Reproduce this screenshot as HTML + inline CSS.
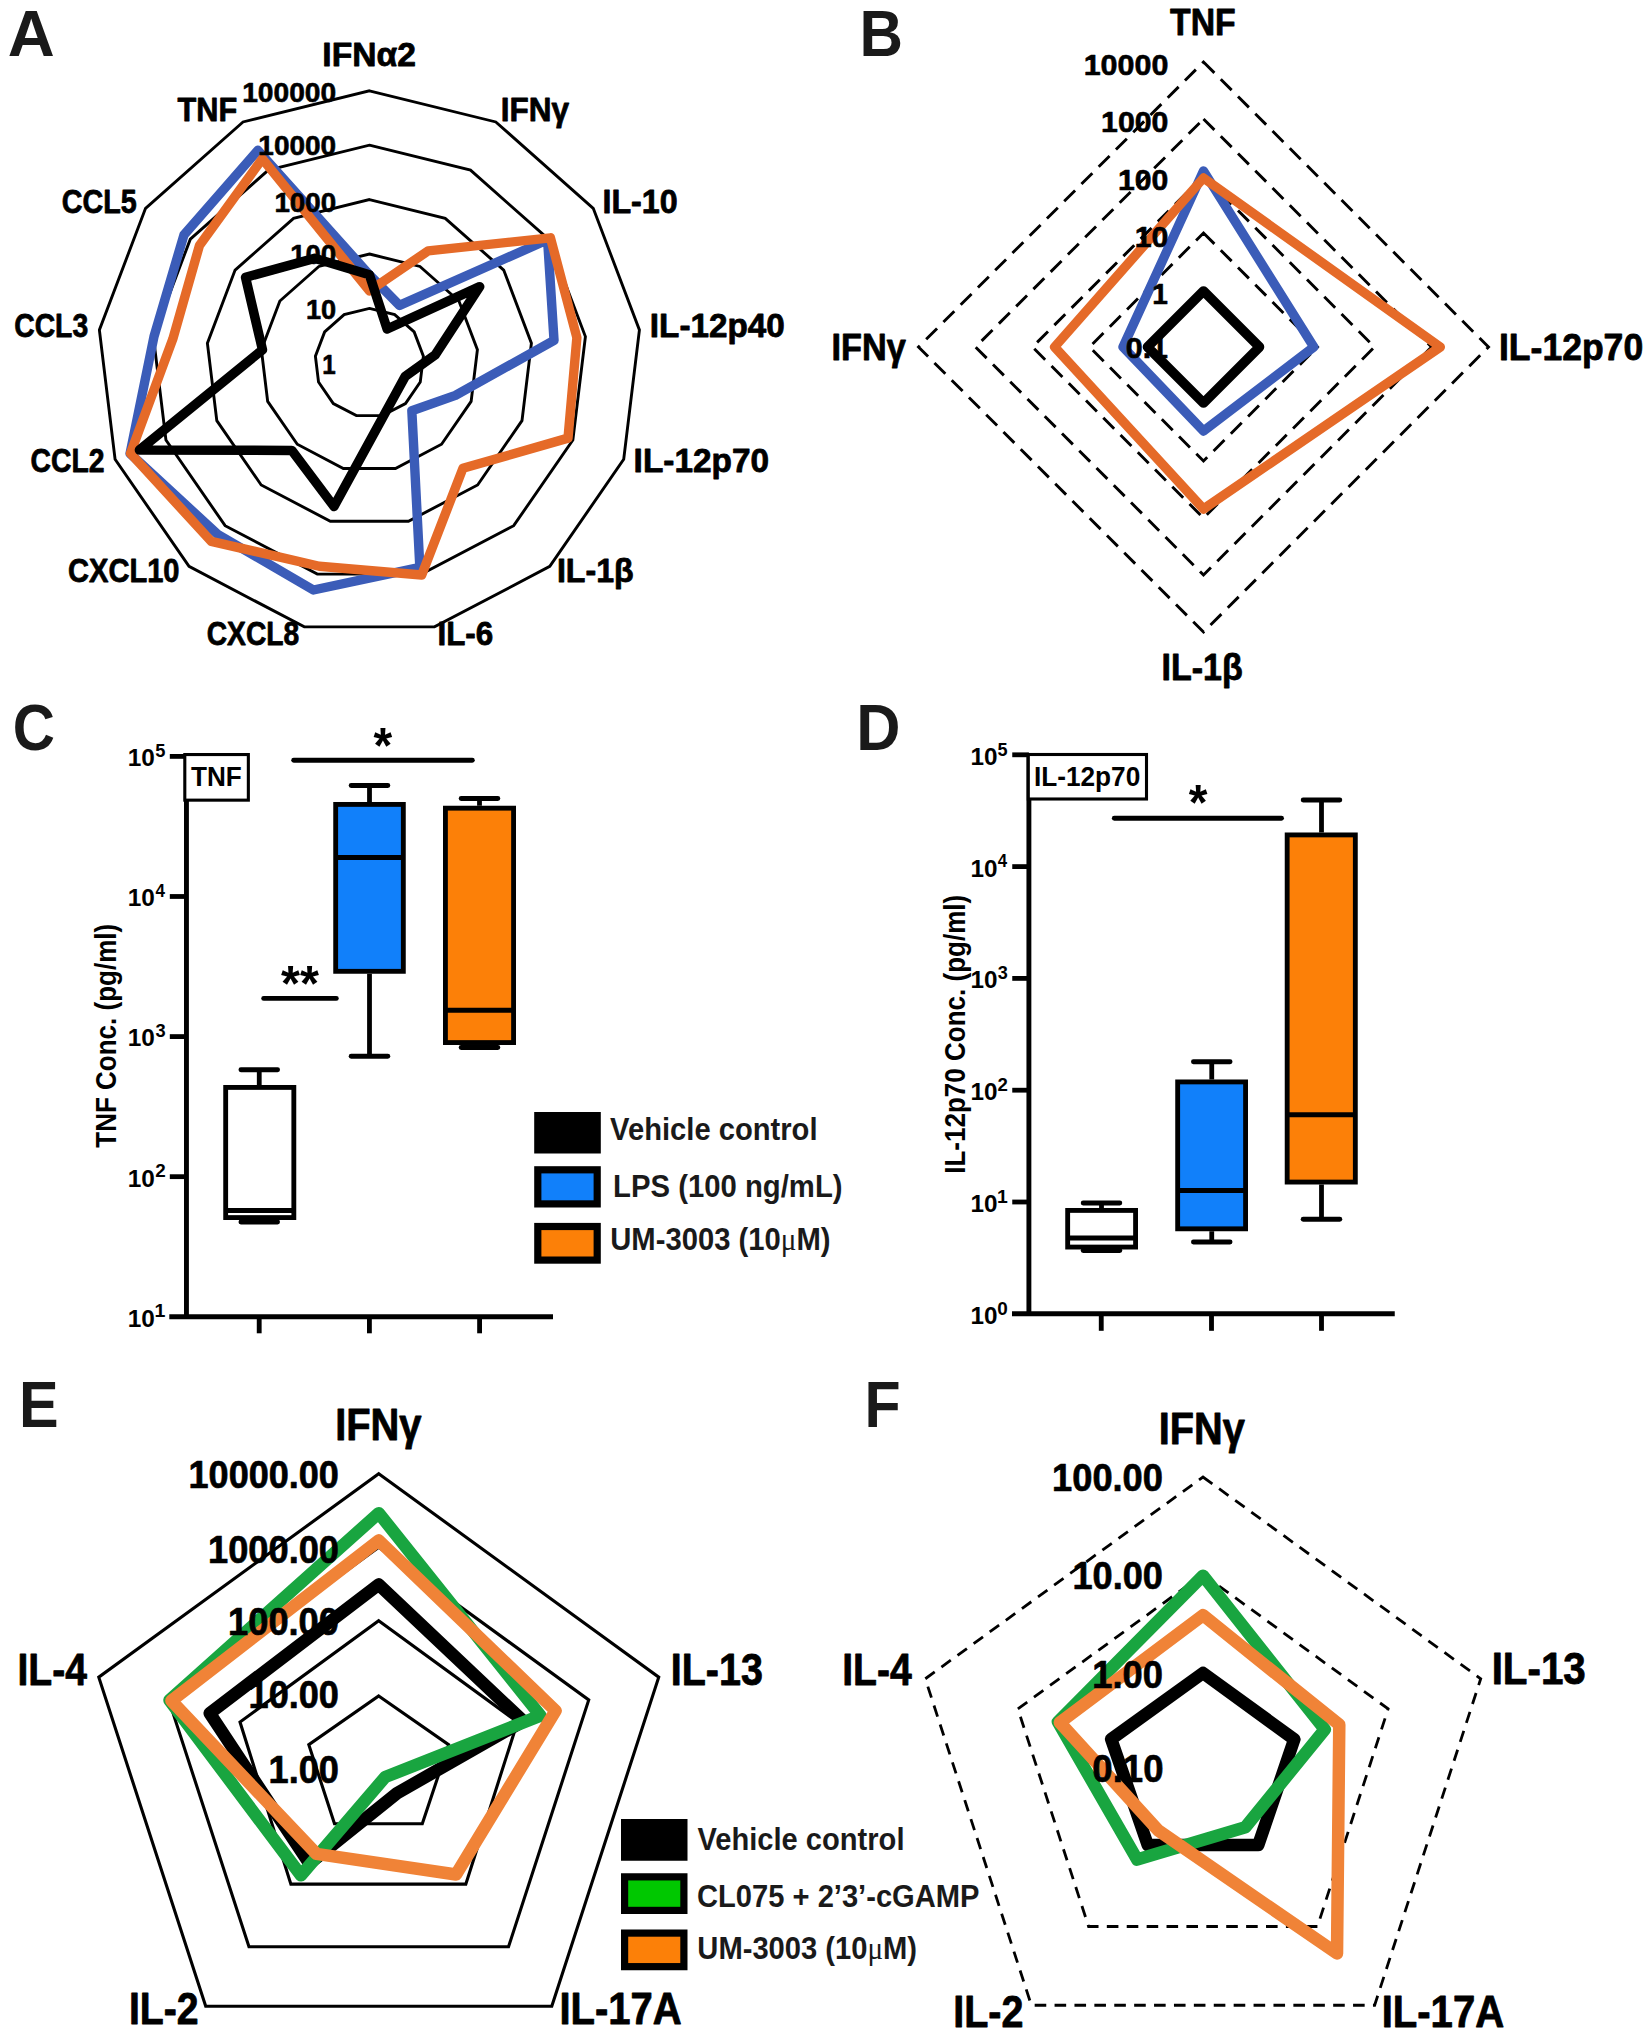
<!DOCTYPE html>
<html><head><meta charset="utf-8"><title>Figure</title>
<style>
html,body{margin:0;padding:0;background:#fff}
svg{display:block}
text{font-family:"Liberation Sans",sans-serif;font-weight:bold}
</style></head><body>
<svg width="1652" height="2037" viewBox="0 0 1652 2037">
<rect width="1652" height="2037" fill="#fff"/>
<text transform="translate(7.77,56.10) scale(1.0145,1)" font-size="64.15" fill="#1a1a1a">A</text>
<text transform="translate(859.43,56.10) scale(0.9392,1)" font-size="64.15" fill="#1a1a1a">B</text>
<text transform="translate(12.66,749.60) scale(0.9104,1)" font-size="64.15" fill="#1a1a1a">C</text>
<text transform="translate(856.37,749.60) scale(0.9545,1)" font-size="64.15" fill="#1a1a1a">D</text>
<text transform="translate(18.99,1426.80) scale(0.9256,1)" font-size="64.15" fill="#1a1a1a">E</text>
<text transform="translate(864.51,1427.20) scale(0.9216,1)" font-size="64.15" fill="#1a1a1a">F</text>
<path d="M369.40,308.40 L394.68,314.63 L414.17,331.90 L423.40,356.24 L420.26,382.09 L405.47,403.52 L382.42,415.62 L356.38,415.62 L333.33,403.52 L318.54,382.09 L315.40,356.24 L324.63,331.90 L344.12,314.63 Z" fill="none" stroke="#000" stroke-width="2.9" stroke-linejoin="miter"/>
<path d="M369.40,254.00 L419.96,266.46 L458.94,300.99 L477.41,349.69 L471.13,401.38 L441.55,444.24 L395.44,468.44 L343.36,468.44 L297.25,444.24 L267.67,401.38 L261.39,349.69 L279.86,300.99 L318.84,266.46 Z" fill="none" stroke="#000" stroke-width="2.9" stroke-linejoin="miter"/>
<path d="M369.40,199.60 L445.24,218.29 L503.71,270.09 L531.41,343.13 L521.99,420.67 L477.62,484.96 L408.46,521.26 L330.34,521.26 L261.18,484.96 L216.81,420.67 L207.39,343.13 L235.09,270.09 L293.56,218.29 Z" fill="none" stroke="#000" stroke-width="2.9" stroke-linejoin="miter"/>
<path d="M369.40,145.20 L470.52,170.12 L548.48,239.19 L585.41,336.57 L572.86,439.96 L513.70,525.68 L421.48,574.08 L317.32,574.08 L225.10,525.68 L165.94,439.96 L153.39,336.57 L190.32,239.19 L268.28,170.12 Z" fill="none" stroke="#000" stroke-width="2.9" stroke-linejoin="miter"/>
<path d="M369.40,90.80 L495.80,121.96 L593.25,208.29 L639.42,330.01 L623.72,459.25 L549.77,566.39 L434.49,626.90 L304.31,626.90 L189.03,566.39 L115.08,459.25 L99.38,330.01 L145.55,208.29 L243.00,121.96 Z" fill="none" stroke="#000" stroke-width="2.9" stroke-linejoin="miter"/>
<path d="M369.40,274.80 L399.51,305.42 L547.58,239.81 L554.04,340.38 L455.42,395.42 L411.84,410.70 L419.85,567.47 L313.40,590.00 L217.54,534.21 L130.04,453.58 L153.98,336.64 L183.98,234.82 L257.87,150.29 Z" fill="none" stroke="#3b5cb8" stroke-width="9.4" stroke-linejoin="round"/>
<path d="M369.40,290.80 L428.14,250.88 L550.46,237.83 L576.88,337.61 L568.00,438.12 L462.90,468.34 L421.71,575.05 L319.26,566.21 L211.25,541.32 L130.50,453.40 L172.84,338.93 L199.45,245.49 L262.33,158.79 Z" fill="none" stroke="#e56a28" stroke-width="9.4" stroke-linejoin="round"/>
<path d="M369.40,274.80 L387.15,328.98 L479.68,286.68 L435.22,354.81 L405.21,376.38 L396.12,392.96 L382.83,417.27 L333.98,506.50 L291.81,450.38 L139.39,450.03 L262.49,349.82 L245.54,277.31 L314.56,258.32 Z" fill="none" stroke="#000" stroke-width="9.5" stroke-linejoin="round"/>
<text transform="translate(322.34,65.50) scale(0.9931,1)" font-size="33.89" fill="#000" stroke="#000" stroke-width="0.8" stroke-linejoin="round">IFNα2</text>
<text transform="translate(500.73,121.00) scale(0.9300,1)" font-size="33.89" fill="#000" stroke="#000" stroke-width="0.8" stroke-linejoin="round">IFNγ</text>
<text transform="translate(602.43,213.00) scale(0.9519,1)" font-size="33.89" fill="#000" stroke="#000" stroke-width="0.8" stroke-linejoin="round">IL-10</text>
<text transform="translate(649.87,337.00) scale(0.9813,1)" font-size="33.89" fill="#000" stroke="#000" stroke-width="0.8" stroke-linejoin="round">IL-12p40</text>
<text transform="translate(633.61,472.00) scale(0.9850,1)" font-size="33.89" fill="#000" stroke="#000" stroke-width="0.8" stroke-linejoin="round">IL-12p70</text>
<text transform="translate(556.94,582.00) scale(0.9485,1)" font-size="33.89" fill="#000" stroke="#000" stroke-width="0.8" stroke-linejoin="round">IL-1β</text>
<text transform="translate(437.49,644.50) scale(0.9254,1)" font-size="33.89" fill="#000" stroke="#000" stroke-width="0.8" stroke-linejoin="round">IL-6</text>
<text transform="translate(206.73,644.50) scale(0.8328,1)" font-size="33.89" fill="#000" stroke="#000" stroke-width="0.8" stroke-linejoin="round">CXCL8</text>
<text transform="translate(67.95,582.00) scale(0.8593,1)" font-size="33.89" fill="#000" stroke="#000" stroke-width="0.8" stroke-linejoin="round">CXCL10</text>
<text transform="translate(30.48,472.00) scale(0.8363,1)" font-size="33.89" fill="#000" stroke="#000" stroke-width="0.8" stroke-linejoin="round">CCL2</text>
<text transform="translate(14.23,337.00) scale(0.8355,1)" font-size="33.89" fill="#000" stroke="#000" stroke-width="0.8" stroke-linejoin="round">CCL3</text>
<text transform="translate(61.71,213.00) scale(0.8475,1)" font-size="33.89" fill="#000" stroke="#000" stroke-width="0.8" stroke-linejoin="round">CCL5</text>
<text transform="translate(177.55,121.00) scale(0.9063,1)" font-size="33.89" fill="#000" stroke="#000" stroke-width="0.8" stroke-linejoin="round">TNF</text>
<text transform="translate(242.21,101.60) scale(1.0247,1)" font-size="27.49" fill="#000" stroke="#000" stroke-width="0.6" stroke-linejoin="round">100000</text>
<text transform="translate(258.32,155.40) scale(1.0184,1)" font-size="27.49" fill="#000" stroke="#000" stroke-width="0.6" stroke-linejoin="round">10000</text>
<text transform="translate(274.43,211.90) scale(1.0099,1)" font-size="27.49" fill="#000" stroke="#000" stroke-width="0.6" stroke-linejoin="round">1000</text>
<text transform="translate(290.15,264.40) scale(1.0032,1)" font-size="27.49" fill="#000" stroke="#000" stroke-width="0.6" stroke-linejoin="round">100</text>
<text transform="translate(305.97,318.50) scale(0.9878,1)" font-size="27.49" fill="#000" stroke="#000" stroke-width="0.6" stroke-linejoin="round">10</text>
<text transform="translate(322.26,374.30) scale(0.8808,1)" font-size="27.49" fill="#000" stroke="#000" stroke-width="0.6" stroke-linejoin="round">1</text>
<path d="M1203.50,290.00 L1260.50,347.00 L1203.50,404.00 L1146.50,347.00 Z" fill="none" stroke="#000" stroke-width="2.9" stroke-dasharray="15.4 9" stroke-linejoin="miter"/>
<path d="M1203.50,233.00 L1317.50,347.00 L1203.50,461.00 L1089.50,347.00 Z" fill="none" stroke="#000" stroke-width="2.9" stroke-dasharray="15.4 9" stroke-linejoin="miter"/>
<path d="M1203.50,176.00 L1374.50,347.00 L1203.50,518.00 L1032.50,347.00 Z" fill="none" stroke="#000" stroke-width="2.9" stroke-dasharray="15.4 9" stroke-linejoin="miter"/>
<path d="M1203.50,119.00 L1431.50,347.00 L1203.50,575.00 L975.50,347.00 Z" fill="none" stroke="#000" stroke-width="2.9" stroke-dasharray="15.4 9" stroke-linejoin="miter"/>
<path d="M1203.50,62.00 L1488.50,347.00 L1203.50,632.00 L918.50,347.00 Z" fill="none" stroke="#000" stroke-width="2.9" stroke-dasharray="15.4 9" stroke-linejoin="miter"/>
<path d="M1203.50,171.00 L1313.80,347.00 L1203.50,431.00 L1123.00,347.00 Z" fill="none" stroke="#3b5cb8" stroke-width="9.4" stroke-linejoin="round"/>
<path d="M1203.50,178.00 L1440.30,347.00 L1203.50,509.00 L1054.60,347.00 Z" fill="none" stroke="#e56a28" stroke-width="9.4" stroke-linejoin="round"/>
<path d="M1203.50,291.00 L1259.50,347.00 L1203.50,403.00 L1147.50,347.00 Z" fill="none" stroke="#000" stroke-width="9.6" stroke-linejoin="round"/>
<text transform="translate(1170.12,34.70) scale(0.9141,1)" font-size="36.95" fill="#000" stroke="#000" stroke-width="0.8" stroke-linejoin="round">TNF</text>
<text transform="translate(831.55,360.00) scale(0.9274,1)" font-size="36.95" fill="#000" stroke="#000" stroke-width="0.8" stroke-linejoin="round">IFNγ</text>
<text transform="translate(1498.96,360.00) scale(0.9619,1)" font-size="36.95" fill="#000" stroke="#000" stroke-width="0.8" stroke-linejoin="round">IL-12p70</text>
<text transform="translate(1161.56,680.00) scale(0.9203,1)" font-size="36.95" fill="#000" stroke="#000" stroke-width="0.8" stroke-linejoin="round">IL-1β</text>
<text transform="translate(1083.67,74.80) scale(1.0166,1)" font-size="29.96" fill="#000" stroke="#000" stroke-width="0.6" stroke-linejoin="round">10000</text>
<text transform="translate(1101.08,132.30) scale(1.0100,1)" font-size="29.96" fill="#000" stroke="#000" stroke-width="0.6" stroke-linejoin="round">1000</text>
<text transform="translate(1117.98,189.80) scale(1.0078,1)" font-size="29.96" fill="#000" stroke="#000" stroke-width="0.6" stroke-linejoin="round">100</text>
<text transform="translate(1134.67,247.00) scale(1.0123,1)" font-size="29.96" fill="#000" stroke="#000" stroke-width="0.6" stroke-linejoin="round">10</text>
<text transform="translate(1152.31,304.10) scale(0.9373,1)" font-size="29.96" fill="#000" stroke="#000" stroke-width="0.6" stroke-linejoin="round">1</text>
<text transform="translate(1125.76,358.40) scale(1.0135,1)" font-size="29.96" fill="#000" stroke="#000" stroke-width="0.6" stroke-linejoin="round">0.1</text>
<line x1="186.45" y1="754.20" x2="186.45" y2="1319.10" stroke="#000" stroke-width="4.9" stroke-linecap="butt"/>
<line x1="169.30" y1="1316.75" x2="553.00" y2="1316.75" stroke="#000" stroke-width="4.8" stroke-linecap="butt"/>
<line x1="169.80" y1="756.40" x2="186.45" y2="756.40" stroke="#000" stroke-width="4.8" stroke-linecap="butt"/>
<text transform="translate(127.67,766.30) scale(0.9874,1)" font-size="24.73" fill="#000">10</text>
<text transform="translate(155.25,757.10) scale(0.9980,1)" font-size="18.33" fill="#000">5</text>
<line x1="169.80" y1="896.49" x2="186.45" y2="896.49" stroke="#000" stroke-width="4.8" stroke-linecap="butt"/>
<text transform="translate(127.67,906.39) scale(0.9874,1)" font-size="24.73" fill="#000">10</text>
<text transform="translate(155.54,897.19) scale(0.9281,1)" font-size="18.33" fill="#000">4</text>
<line x1="169.80" y1="1036.58" x2="186.45" y2="1036.58" stroke="#000" stroke-width="4.8" stroke-linecap="butt"/>
<text transform="translate(127.67,1046.48) scale(0.9874,1)" font-size="24.73" fill="#000">10</text>
<text transform="translate(155.39,1037.28) scale(0.9980,1)" font-size="18.33" fill="#000">3</text>
<line x1="169.80" y1="1176.67" x2="186.45" y2="1176.67" stroke="#000" stroke-width="4.8" stroke-linecap="butt"/>
<text transform="translate(127.67,1186.57) scale(0.9874,1)" font-size="24.73" fill="#000">10</text>
<text transform="translate(155.14,1177.37) scale(1.0291,1)" font-size="18.33" fill="#000">2</text>
<text transform="translate(127.67,1326.66) scale(0.9874,1)" font-size="24.73" fill="#000">10</text>
<text transform="translate(154.58,1317.46) scale(1.0678,1)" font-size="18.33" fill="#000">1</text>
<line x1="259.20" y1="1316.50" x2="259.20" y2="1333.30" stroke="#000" stroke-width="4.85" stroke-linecap="butt"/>
<line x1="369.40" y1="1316.50" x2="369.40" y2="1333.30" stroke="#000" stroke-width="4.85" stroke-linecap="butt"/>
<line x1="479.60" y1="1316.50" x2="479.60" y2="1333.30" stroke="#000" stroke-width="4.85" stroke-linecap="butt"/>
<rect x="184.8" y="754.55" width="63.55" height="45.6" fill="#fff" stroke="#000" stroke-width="3.1"/>
<text transform="translate(190.94,786.30) scale(0.9311,1)" font-size="28.07" fill="#000">TNF</text>
<line x1="259.25" y1="1069.75" x2="259.25" y2="1085.00" stroke="#000" stroke-width="4.8" stroke-linecap="butt"/>
<line x1="259.25" y1="1220.00" x2="259.25" y2="1222.00" stroke="#000" stroke-width="4.8" stroke-linecap="butt"/>
<line x1="240.90" y1="1069.75" x2="277.60" y2="1069.75" stroke="#000" stroke-width="4.8" stroke-linecap="round"/>
<line x1="240.90" y1="1222.00" x2="277.60" y2="1222.00" stroke="#000" stroke-width="4.8" stroke-linecap="round"/>
<rect x="225.68" y="1087.42" width="68.15" height="130.15" fill="#fff" stroke="#000" stroke-width="4.85"/>
<line x1="225.25" y1="1210.50" x2="294.25" y2="1210.50" stroke="#000" stroke-width="4.9" stroke-linecap="butt"/>
<line x1="369.50" y1="785.50" x2="369.50" y2="802.00" stroke="#000" stroke-width="4.8" stroke-linecap="butt"/>
<line x1="369.50" y1="973.75" x2="369.50" y2="1056.25" stroke="#000" stroke-width="4.8" stroke-linecap="butt"/>
<line x1="351.15" y1="785.50" x2="387.85" y2="785.50" stroke="#000" stroke-width="4.8" stroke-linecap="round"/>
<line x1="351.15" y1="1056.25" x2="387.85" y2="1056.25" stroke="#000" stroke-width="4.8" stroke-linecap="round"/>
<rect x="335.68" y="804.42" width="67.65" height="166.90" fill="#1180fa" stroke="#000" stroke-width="4.85"/>
<line x1="335.25" y1="857.50" x2="403.75" y2="857.50" stroke="#000" stroke-width="4.9" stroke-linecap="butt"/>
<line x1="479.50" y1="798.50" x2="479.50" y2="805.75" stroke="#000" stroke-width="4.8" stroke-linecap="butt"/>
<line x1="479.50" y1="1045.00" x2="479.50" y2="1047.50" stroke="#000" stroke-width="4.8" stroke-linecap="butt"/>
<line x1="461.15" y1="798.50" x2="497.85" y2="798.50" stroke="#000" stroke-width="4.8" stroke-linecap="round"/>
<line x1="461.15" y1="1047.50" x2="497.85" y2="1047.50" stroke="#000" stroke-width="4.8" stroke-linecap="round"/>
<rect x="445.43" y="808.17" width="68.15" height="234.40" fill="#fc8008" stroke="#000" stroke-width="4.85"/>
<line x1="445.00" y1="1010.25" x2="514.00" y2="1010.25" stroke="#000" stroke-width="4.9" stroke-linecap="butt"/>
<line x1="293.70" y1="760.20" x2="472.30" y2="760.20" stroke="#000" stroke-width="4.9" stroke-linecap="round"/>
<line x1="263.70" y1="998.40" x2="336.30" y2="998.40" stroke="#000" stroke-width="4.9" stroke-linecap="round"/>
<text transform="translate(373.48,763.16) scale(0.9728,1)" font-size="49.40" fill="#000">*</text>
<text transform="translate(280.98,1000.76) scale(0.9874,1)" font-size="49.40" fill="#000">**</text>
<text transform="translate(115.50,1147.76) rotate(-90) scale(0.8727,1)" font-size="29.82" fill="#000">TNF Conc. (pg/ml)</text>
<rect x="534.2" y="1112" width="66.59999999999991" height="41.5" fill="#000"/>
<rect x="537.80" y="1169.80" width="59.40" height="34.10" fill="#1180fa" stroke="#000" stroke-width="7.2"/>
<rect x="537.80" y="1226.50" width="59.40" height="33.60" fill="#fc8008" stroke="#000" stroke-width="7.2"/>
<text transform="translate(610.08,1139.80) scale(0.9419,1)" font-size="30.98" fill="#1a1a1a">Vehicle control</text>
<text transform="translate(613.02,1197.30) scale(0.9462,1)" font-size="30.98" fill="#1a1a1a">LPS (100 ng/mL)</text>
<text transform="translate(610.25,1250.30) scale(0.9432,1)" font-size="30.98" fill="#1a1a1a">UM-3003 (10<tspan font-family="Liberation Serif,serif" font-weight="normal">μ</tspan>M)</text>
<line x1="1028.90" y1="752.90" x2="1028.90" y2="1316.10" stroke="#000" stroke-width="4.9" stroke-linecap="butt"/>
<line x1="1012.00" y1="1313.75" x2="1394.75" y2="1313.75" stroke="#000" stroke-width="4.8" stroke-linecap="butt"/>
<line x1="1012.25" y1="754.80" x2="1028.90" y2="754.80" stroke="#000" stroke-width="4.8" stroke-linecap="butt"/>
<text transform="translate(970.38,764.80) scale(0.9834,1)" font-size="24.73" fill="#000">10</text>
<text transform="translate(997.56,755.60) scale(0.9871,1)" font-size="18.33" fill="#000">5</text>
<line x1="1012.25" y1="866.60" x2="1028.90" y2="866.60" stroke="#000" stroke-width="4.8" stroke-linecap="butt"/>
<text transform="translate(970.38,876.60) scale(0.9834,1)" font-size="24.73" fill="#000">10</text>
<text transform="translate(997.85,867.40) scale(0.9179,1)" font-size="18.33" fill="#000">4</text>
<line x1="1012.25" y1="978.40" x2="1028.90" y2="978.40" stroke="#000" stroke-width="4.8" stroke-linecap="butt"/>
<text transform="translate(970.38,988.40) scale(0.9834,1)" font-size="24.73" fill="#000">10</text>
<text transform="translate(997.69,979.20) scale(0.9871,1)" font-size="18.33" fill="#000">3</text>
<line x1="1012.25" y1="1090.20" x2="1028.90" y2="1090.20" stroke="#000" stroke-width="4.8" stroke-linecap="butt"/>
<text transform="translate(970.38,1100.20) scale(0.9834,1)" font-size="24.73" fill="#000">10</text>
<text transform="translate(997.45,1091.00) scale(1.0178,1)" font-size="18.33" fill="#000">2</text>
<line x1="1012.25" y1="1202.00" x2="1028.90" y2="1202.00" stroke="#000" stroke-width="4.8" stroke-linecap="butt"/>
<text transform="translate(970.38,1212.00) scale(0.9834,1)" font-size="24.73" fill="#000">10</text>
<text transform="translate(996.89,1202.80) scale(1.0561,1)" font-size="18.33" fill="#000">1</text>
<text transform="translate(970.38,1323.80) scale(0.9834,1)" font-size="24.73" fill="#000">10</text>
<text transform="translate(997.34,1314.60) scale(1.0338,1)" font-size="18.33" fill="#000">0</text>
<line x1="1101.25" y1="1313.75" x2="1101.25" y2="1330.80" stroke="#000" stroke-width="4.85" stroke-linecap="butt"/>
<line x1="1211.50" y1="1313.75" x2="1211.50" y2="1330.80" stroke="#000" stroke-width="4.85" stroke-linecap="butt"/>
<line x1="1321.50" y1="1313.75" x2="1321.50" y2="1330.80" stroke="#000" stroke-width="4.85" stroke-linecap="butt"/>
<rect x="1028.3" y="754.5" width="118.2" height="44.5" fill="#fff" stroke="#000" stroke-width="3.1"/>
<text transform="translate(1033.93,785.70) scale(0.9292,1)" font-size="28.22" fill="#000">IL-12p70</text>
<line x1="1101.50" y1="1203.00" x2="1101.50" y2="1208.00" stroke="#000" stroke-width="4.8" stroke-linecap="butt"/>
<line x1="1101.50" y1="1249.50" x2="1101.50" y2="1250.50" stroke="#000" stroke-width="4.8" stroke-linecap="butt"/>
<line x1="1083.15" y1="1203.00" x2="1119.85" y2="1203.00" stroke="#000" stroke-width="4.8" stroke-linecap="round"/>
<line x1="1083.15" y1="1250.50" x2="1119.85" y2="1250.50" stroke="#000" stroke-width="4.8" stroke-linecap="round"/>
<rect x="1067.67" y="1210.42" width="67.90" height="36.65" fill="#fff" stroke="#000" stroke-width="4.85"/>
<line x1="1067.25" y1="1238.00" x2="1136.00" y2="1238.00" stroke="#000" stroke-width="4.9" stroke-linecap="butt"/>
<line x1="1211.75" y1="1061.75" x2="1211.75" y2="1079.50" stroke="#000" stroke-width="4.8" stroke-linecap="butt"/>
<line x1="1211.75" y1="1231.25" x2="1211.75" y2="1242.00" stroke="#000" stroke-width="4.8" stroke-linecap="butt"/>
<line x1="1193.40" y1="1061.75" x2="1230.10" y2="1061.75" stroke="#000" stroke-width="4.8" stroke-linecap="round"/>
<line x1="1193.40" y1="1242.00" x2="1230.10" y2="1242.00" stroke="#000" stroke-width="4.8" stroke-linecap="round"/>
<rect x="1177.67" y="1081.92" width="67.90" height="146.90" fill="#1180fa" stroke="#000" stroke-width="4.85"/>
<line x1="1177.25" y1="1190.50" x2="1246.00" y2="1190.50" stroke="#000" stroke-width="4.9" stroke-linecap="butt"/>
<line x1="1321.50" y1="800.00" x2="1321.50" y2="832.50" stroke="#000" stroke-width="4.8" stroke-linecap="butt"/>
<line x1="1321.50" y1="1184.50" x2="1321.50" y2="1219.25" stroke="#000" stroke-width="4.8" stroke-linecap="butt"/>
<line x1="1303.15" y1="800.00" x2="1339.85" y2="800.00" stroke="#000" stroke-width="4.8" stroke-linecap="round"/>
<line x1="1303.15" y1="1219.25" x2="1339.85" y2="1219.25" stroke="#000" stroke-width="4.8" stroke-linecap="round"/>
<rect x="1287.17" y="834.92" width="68.15" height="347.15" fill="#fc8008" stroke="#000" stroke-width="4.85"/>
<line x1="1286.75" y1="1114.75" x2="1355.75" y2="1114.75" stroke="#000" stroke-width="4.9" stroke-linecap="butt"/>
<line x1="1114.30" y1="818.25" x2="1281.50" y2="818.25" stroke="#000" stroke-width="4.9" stroke-linecap="round"/>
<text transform="translate(1188.78,819.86) scale(0.9728,1)" font-size="49.40" fill="#000">*</text>
<text transform="translate(964.75,1173.76) rotate(-90) scale(0.8728,1)" font-size="29.82" fill="#000">IL-12p70 Conc. (pg/ml)</text>
<path d="M378.75,1547.35 L588.74,1699.92 L508.53,1946.78 L248.97,1946.78 L168.76,1699.92 Z" fill="none" stroke="#000" stroke-width="3.1" stroke-linejoin="miter"/>
<path d="M378.75,1473.75 L658.74,1677.18 L551.79,2006.32 L205.71,2006.32 L98.76,1677.18 Z" fill="none" stroke="#000" stroke-width="3.1" stroke-linejoin="miter"/>
<path d="M378.70,1695.90 L448.60,1744.70 L422.30,1823.80 L334.50,1823.80 L308.80,1744.70 Z" fill="none" stroke="#000" stroke-width="3.1" stroke-linejoin="miter"/>
<path d="M378.70,1620.70 L517.50,1722.00 L465.80,1884.10 L290.90,1884.10 L240.00,1722.00 Z" fill="none" stroke="#000" stroke-width="3.1" stroke-linejoin="miter"/>
<path d="M378.75,1584.55 L523.31,1721.18 L396.97,1793.23 L309.39,1863.61 L209.75,1713.24 Z" fill="none" stroke="#000" stroke-width="12.6" stroke-linejoin="round"/>
<path d="M378.75,1513.15 L540.43,1715.62 L385.22,1777.05 L300.87,1875.34 L169.52,1700.17 Z" fill="none" stroke="#19a540" stroke-width="12.5" stroke-linejoin="round"/>
<path d="M378.75,1540.55 L555.55,1710.70 L456.04,1874.54 L316.44,1853.91 L171.42,1700.78 Z" fill="none" stroke="#f08337" stroke-width="12.5" stroke-linejoin="round"/>
<text transform="translate(335.17,1440.20) scale(0.9137,1)" font-size="43.64" fill="#000" stroke="#000" stroke-width="0.8" stroke-linejoin="round">IFNγ</text>
<text transform="translate(670.70,1685.20) scale(0.9046,1)" font-size="43.64" fill="#000" stroke="#000" stroke-width="0.8" stroke-linejoin="round">IL-13</text>
<text transform="translate(559.41,2024.00) scale(0.9169,1)" font-size="43.64" fill="#000" stroke="#000" stroke-width="0.8" stroke-linejoin="round">IL-17A</text>
<text transform="translate(128.97,2024.00) scale(0.8979,1)" font-size="43.64" fill="#000" stroke="#000" stroke-width="0.8" stroke-linejoin="round">IL-2</text>
<text transform="translate(17.52,1685.20) scale(0.8949,1)" font-size="43.64" fill="#000" stroke="#000" stroke-width="0.8" stroke-linejoin="round">IL-4</text>
<text transform="translate(188.56,1488.40) scale(0.9426,1)" font-size="38.25" fill="#000" stroke="#000" stroke-width="0.7" stroke-linejoin="round">10000.00</text>
<text transform="translate(208.05,1563.20) scale(0.9471,1)" font-size="38.25" fill="#000" stroke="#000" stroke-width="0.7" stroke-linejoin="round">1000.00</text>
<text transform="translate(228.05,1634.60) scale(0.9481,1)" font-size="38.25" fill="#000" stroke="#000" stroke-width="0.7" stroke-linejoin="round">100.00</text>
<text transform="translate(248.56,1708.40) scale(0.9440,1)" font-size="38.25" fill="#000" stroke="#000" stroke-width="0.7" stroke-linejoin="round">10.00</text>
<text transform="translate(268.55,1783.30) scale(0.9459,1)" font-size="38.25" fill="#000" stroke="#000" stroke-width="0.7" stroke-linejoin="round">1.00</text>
<rect x="621" y="1819" width="66.5" height="41.75" fill="#000"/>
<rect x="624.60" y="1876.85" width="59.30" height="33.55" fill="#00c800" stroke="#000" stroke-width="7.2"/>
<rect x="624.60" y="1933.10" width="59.30" height="33.55" fill="#fc8008" stroke="#000" stroke-width="7.2"/>
<text transform="translate(697.38,1849.50) scale(0.9490,1)" font-size="30.69" fill="#1a1a1a">Vehicle control</text>
<text transform="translate(697.03,1906.60) scale(0.9496,1)" font-size="30.69" fill="#1a1a1a">CL075 + 2’3’-cGAMP</text>
<text transform="translate(697.35,1958.50) scale(0.9502,1)" font-size="30.69" fill="#1a1a1a">UM-3003 (10<tspan font-family="Liberation Serif,serif" font-weight="normal">μ</tspan>M)</text>
<path d="M1203.00,1574.33 L1388.14,1708.84 L1317.42,1926.49 L1088.58,1926.49 L1017.86,1708.84 Z" fill="none" stroke="#000" stroke-width="2.8" stroke-dasharray="11.6 8.3" stroke-linejoin="miter"/>
<path d="M1203.00,1477.00 L1480.71,1678.77 L1374.63,2005.23 L1031.37,2005.23 L925.29,1678.77 Z" fill="none" stroke="#000" stroke-width="2.8" stroke-dasharray="11.6 8.3" stroke-linejoin="miter"/>
<path d="M1203.00,1673.00 L1294.30,1739.33 L1258.25,1845.05 L1147.75,1845.05 L1111.22,1739.18 Z" fill="none" stroke="#000" stroke-width="12.6" stroke-linejoin="round"/>
<path d="M1203.00,1575.70 L1324.74,1729.45 L1245.32,1827.25 L1137.17,1859.61 L1057.96,1721.87 Z" fill="none" stroke="#19a540" stroke-width="12.5" stroke-linejoin="round"/>
<path d="M1203.00,1615.20 L1339.29,1724.72 L1337.02,1953.46 L1158.33,1830.49 L1059.87,1722.49 Z" fill="none" stroke="#f08337" stroke-width="12.5" stroke-linejoin="round"/>
<text transform="translate(1158.68,1444.00) scale(0.9110,1)" font-size="43.64" fill="#000" stroke="#000" stroke-width="0.8" stroke-linejoin="round">IFNγ</text>
<text transform="translate(1491.63,1684.20) scale(0.9252,1)" font-size="43.64" fill="#000" stroke="#000" stroke-width="0.8" stroke-linejoin="round">IL-13</text>
<text transform="translate(1381.65,2026.50) scale(0.9188,1)" font-size="43.64" fill="#000" stroke="#000" stroke-width="0.8" stroke-linejoin="round">IL-17A</text>
<text transform="translate(953.20,2026.50) scale(0.9047,1)" font-size="43.64" fill="#000" stroke="#000" stroke-width="0.8" stroke-linejoin="round">IL-2</text>
<text transform="translate(842.22,1685.20) scale(0.8976,1)" font-size="43.64" fill="#000" stroke="#000" stroke-width="0.8" stroke-linejoin="round">IL-4</text>
<text transform="translate(1052.05,1491.00) scale(0.9481,1)" font-size="38.25" fill="#000" stroke="#000" stroke-width="0.7" stroke-linejoin="round">100.00</text>
<text transform="translate(1072.46,1589.30) scale(0.9451,1)" font-size="38.25" fill="#000" stroke="#000" stroke-width="0.7" stroke-linejoin="round">10.00</text>
<text transform="translate(1092.35,1687.90) scale(0.9487,1)" font-size="38.25" fill="#000" stroke="#000" stroke-width="0.7" stroke-linejoin="round">1.00</text>
<text transform="translate(1092.35,1782.20) scale(0.9555,1)" font-size="38.25" fill="#000" stroke="#000" stroke-width="0.7" stroke-linejoin="round">0.10</text>
</svg></body></html>
